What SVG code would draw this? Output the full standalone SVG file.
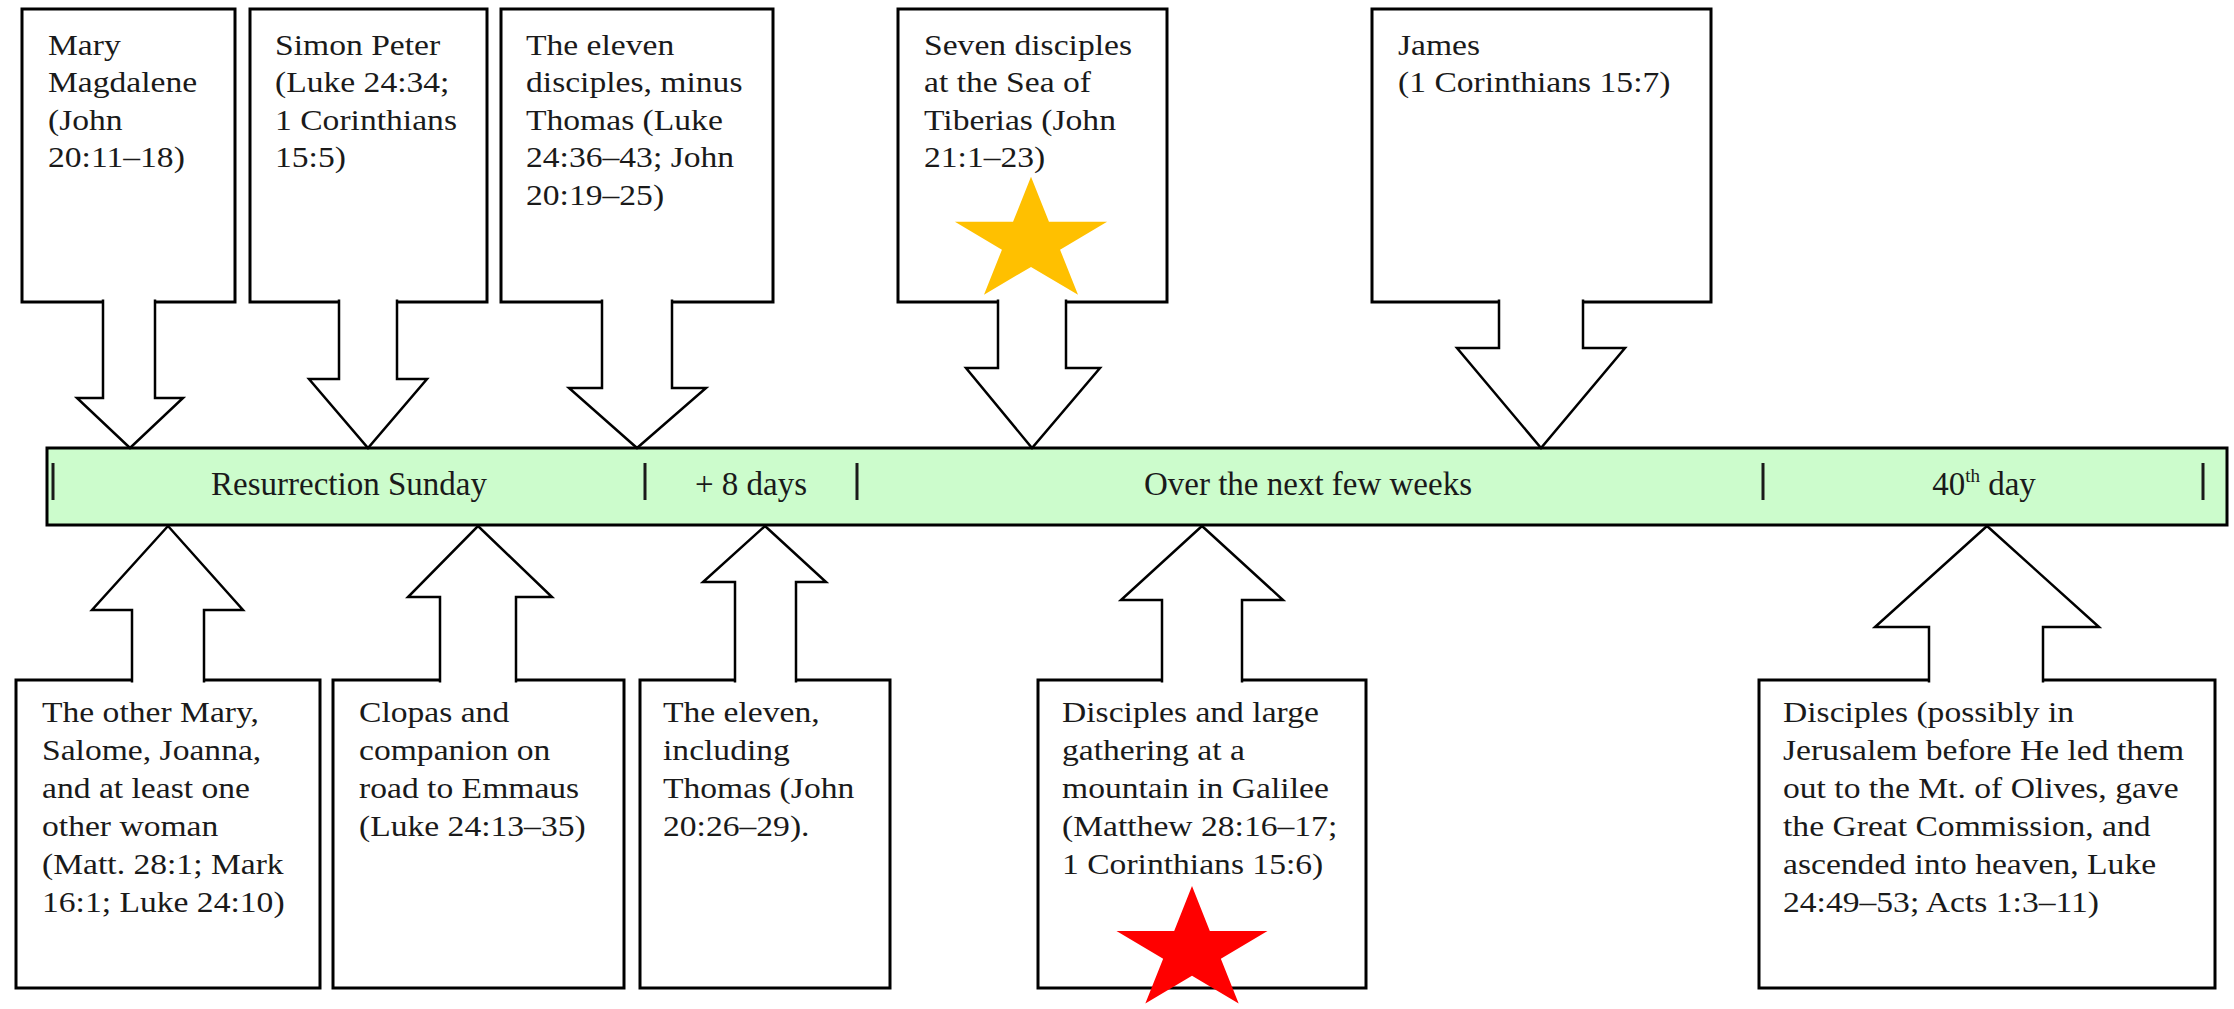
<svg xmlns="http://www.w3.org/2000/svg" width="2234" height="1009" viewBox="0 0 2234 1009">
<style>
.box{fill:#fff;stroke:#000;stroke-width:3;stroke-linejoin:miter}
.arr{fill:#fff;stroke:#000;stroke-width:2.5;stroke-linejoin:miter}
.t{font-family:"Liberation Serif","Times New Roman",serif;font-size:30px;fill:#1a1a1a}
.bl{font-family:"Liberation Serif","Times New Roman",serif;font-size:33px;fill:#1a1a1a;text-anchor:middle}
.tick{stroke:#1a1a1a;stroke-width:3}
</style>
<defs>
<polygon id="star" points="0,-1 0.2245,-0.309 0.9511,-0.309 0.3633,0.118 0.5878,0.809 0,0.382 -0.5878,0.809 -0.3633,0.118 -0.9511,-0.309 -0.2245,-0.309"/>
</defs>
<rect width="2234" height="1009" fill="#fff"/>

<g id="timeline">
<rect x="47" y="448" width="2180" height="77" fill="#ccfccc" stroke="#000" stroke-width="3"/>
<line class="tick" x1="53" y1="463" x2="53" y2="500"/>
<line class="tick" x1="645" y1="463" x2="645" y2="500"/>
<line class="tick" x1="857" y1="463" x2="857" y2="500"/>
<line class="tick" x1="1763" y1="463" x2="1763" y2="500"/>
<line class="tick" x1="2203" y1="463" x2="2203" y2="500"/>
<text class="bl" x="349" y="495">Resurrection Sunday</text>
<text class="bl" x="751" y="495">+ 8 days</text>
<text class="bl" x="1308" y="495">Over the next few weeks</text>
<text class="bl" x="1984" y="495">40<tspan font-size="19" dy="-13">th</tspan><tspan dy="13"> day</tspan></text>
</g>

<g id="node-mary-magdalene">
<rect class="box" x="22" y="9" width="213" height="293"/>
<text class="t" transform="translate(48,55) scale(1.12,1)"><tspan x="0" dy="0">Mary</tspan><tspan x="0" dy="37.5">Magdalene</tspan><tspan x="0" dy="37.5">(John</tspan><tspan x="0" dy="37.5">20:11–18)</tspan></text>
</g>
<g id="node-simon-peter">
<rect class="box" x="250" y="9" width="237" height="293"/>
<text class="t" transform="translate(275,55) scale(1.12,1)"><tspan x="0" dy="0">Simon Peter</tspan><tspan x="0" dy="37.5">(Luke 24:34;</tspan><tspan x="0" dy="37.5">1 Corinthians</tspan><tspan x="0" dy="37.5">15:5)</tspan></text>
</g>
<g id="node-eleven-minus-thomas">
<rect class="box" x="501" y="9" width="272" height="293"/>
<text class="t" transform="translate(526,55) scale(1.12,1)"><tspan x="0" dy="0">The eleven</tspan><tspan x="0" dy="37.5">disciples, minus</tspan><tspan x="0" dy="37.5">Thomas (Luke</tspan><tspan x="0" dy="37.5">24:36–43; John</tspan><tspan x="0" dy="37.5">20:19–25)</tspan></text>
</g>
<g id="node-seven-disciples">
<rect class="box" x="898" y="9" width="269" height="293"/>
<text class="t" transform="translate(924,55) scale(1.12,1)"><tspan x="0" dy="0">Seven disciples</tspan><tspan x="0" dy="37.5">at the Sea of</tspan><tspan x="0" dy="37.5">Tiberias (John</tspan><tspan x="0" dy="37.5">21:1–23)</tspan></text>
</g>
<g id="node-james">
<rect class="box" x="1372" y="9" width="339" height="293"/>
<text class="t" transform="translate(1398,55) scale(1.12,1)"><tspan x="0" dy="0">James</tspan><tspan x="0" dy="37.5">(1 Corinthians 15:7)</tspan></text>
</g>

<g id="node-other-women">
<rect class="box" x="16" y="680" width="304" height="308"/>
<text class="t" transform="translate(42,722) scale(1.12,1)"><tspan x="0" dy="0">The other Mary,</tspan><tspan x="0" dy="38">Salome, Joanna,</tspan><tspan x="0" dy="38">and at least one</tspan><tspan x="0" dy="38">other woman</tspan><tspan x="0" dy="38">(Matt. 28:1; Mark</tspan><tspan x="0" dy="38">16:1; Luke 24:10)</tspan></text>
</g>
<g id="node-clopas">
<rect class="box" x="333" y="680" width="291" height="308"/>
<text class="t" transform="translate(359,722) scale(1.12,1)"><tspan x="0" dy="0">Clopas and</tspan><tspan x="0" dy="38">companion on</tspan><tspan x="0" dy="38">road to Emmaus</tspan><tspan x="0" dy="38">(Luke 24:13–35)</tspan></text>
</g>
<g id="node-eleven-with-thomas">
<rect class="box" x="640" y="680" width="250" height="308"/>
<text class="t" transform="translate(663,722) scale(1.12,1)"><tspan x="0" dy="0">The eleven,</tspan><tspan x="0" dy="38">including</tspan><tspan x="0" dy="38">Thomas (John</tspan><tspan x="0" dy="38">20:26–29).</tspan></text>
</g>
<g id="node-galilee">
<rect class="box" x="1038" y="680" width="328" height="308"/>
<text class="t" transform="translate(1062,722) scale(1.12,1)"><tspan x="0" dy="0">Disciples  and large</tspan><tspan x="0" dy="38">gathering at a</tspan><tspan x="0" dy="38">mountain in Galilee</tspan><tspan x="0" dy="38">(Matthew 28:16–17;</tspan><tspan x="0" dy="38">1 Corinthians 15:6)</tspan></text>
</g>
<g id="node-ascension">
<rect class="box" x="1759" y="680" width="456" height="308"/>
<text class="t" transform="translate(1783,722) scale(1.12,1)"><tspan x="0" dy="0">Disciples  (possibly in</tspan><tspan x="0" dy="38">Jerusalem  before He led them</tspan><tspan x="0" dy="38">out to the Mt. of Olives,  gave</tspan><tspan x="0" dy="38">the Great Commission, and</tspan><tspan x="0" dy="38">ascended into heaven, Luke</tspan><tspan x="0" dy="38">24:49–53; Acts 1:3–11)</tspan></text>
</g>

<g id="connectors">
<path class="arr" d="M103,299.5 V398 H77 L130,448 L183,398 H155 V299.5"/>
<path class="arr" d="M339,299.5 V379 H309 L368,448 L427,379 H397 V299.5"/>
<path class="arr" d="M602,299.5 V388 H569 L637,448 L706,388 H672 V299.5"/>
<path class="arr" d="M998,299.5 V368 H966 L1032,448 L1100,368 H1066 V299.5"/>
<path class="arr" d="M1499,299.5 V348 H1457 L1541,448 L1625,348 H1583 V299.5"/>
<path class="arr" d="M132,682.5 V610 H92 L168,526 L243,610 H204 V682.5"/>
<path class="arr" d="M440,682.5 V597 H408 L478,526 L552,597 H516 V682.5"/>
<path class="arr" d="M735,682.5 V582 H703 L765,526 L826,582 H796 V682.5"/>
<path class="arr" d="M1162,682.5 V600 H1121 L1202,526 L1283,600 H1242 V682.5"/>
<path class="arr" d="M1929,682.5 V627 H1875 L1987,526 L2099,627 H2043 V682.5"/>
</g>

<g id="stars">
<use href="#star" fill="#ffc000" transform="translate(1031,242) scale(80,65.2)"/>
<use href="#star" fill="#ff0000" transform="translate(1192,951) scale(79.4,65)"/>
</g>
</svg>
